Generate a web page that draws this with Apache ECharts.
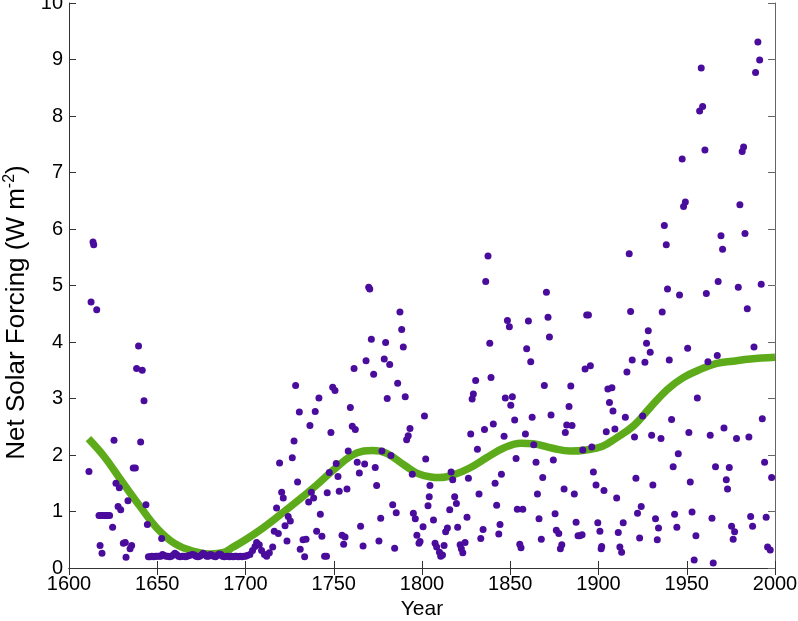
<!DOCTYPE html>
<html>
<head>
<meta charset="utf-8">
<script src="https://cdn.jsdelivr.net/npm/echarts@6/dist/echarts.min.js"></script>
<style>
html,body{margin:0;padding:0;background:#fff;}
#chart{width:798px;height:621px;}
</style>
</head>
<body>
<div id="chart"></div>
<script>
// Axis ticks
var xTicks = [1600, 1650, 1700, 1750, 1800, 1850, 1900, 1950, 2000];
var yTicks = [0, 1, 2, 3, 4, 5, 6, 7, 8, 9, 10];

// Scatter points [year, net solar forcing]
var points1600s = [
  [1611.3,1.71],[1612.5,4.71],[1613.6,5.77],[1614.0,5.72],[1615.7,4.57],
  [1617.0,0.93],[1618.0,0.93],[1619.0,0.93],[1620.0,0.93],[1621.0,0.93],[1622.0,0.93],[1623.0,0.93],
  [1617.6,0.40],[1618.7,0.26],[1624.7,0.72],[1625.5,2.26],[1626.6,1.50],[1627.8,1.09],[1628.5,1.42],
  [1629.3,1.03],[1630.8,0.44],[1631.9,0.45],[1632.3,0.19],[1633.4,1.19],[1634.6,0.34],[1635.5,0.40],
  [1636.4,1.77],[1637.6,1.77],[1638.3,3.53],[1639.4,3.93],[1640.6,2.23],[1641.5,3.50],[1642.5,2.96],
  [1643.6,1.12],[1644.4,0.77],
  [1645,0.20],[1646,0.20],[1647,0.21],[1648,0.20],[1649,0.21],[1650,0.21],[1651,0.21],[1652,0.21],
  [1652.5,0.52],[1653,0.24],[1654,0.22],[1655,0.21],[1656,0.21],[1657,0.20],[1658,0.21],[1659,0.23],
  [1660,0.26],[1661,0.24],[1662,0.21],[1663,0.20],[1664,0.21],[1665,0.21],[1666,0.20],[1667,0.21],
  [1668,0.22],[1669,0.23],[1670,0.24],[1671,0.23],[1672,0.21],[1673,0.20],[1674,0.21],[1675,0.23],
  [1676,0.26],[1677,0.24],[1678,0.21],[1679,0.21],[1680,0.24],[1681,0.23],[1682,0.21],[1683,0.20],
  [1684,0.22],[1685,0.25],[1686,0.24],[1687,0.21],[1688,0.20],[1689,0.21],[1690,0.21],[1691,0.20],
  [1692,0.21],[1693,0.20],[1694,0.21],[1695,0.21],[1696,0.20],[1697,0.21],[1698,0.20],[1699,0.21]
];
var points1700s = [
  [1700,0.21],[1701,0.22],[1702.5,0.24],[1704.0,0.31],[1705.4,0.38],[1706.3,0.45],[1707.8,0.41],
  [1709.1,0.31],[1710.7,0.24],[1712.0,0.21],[1713.5,0.27],[1715.4,0.37],[1716.3,0.65],[1717.6,1.06],
  [1718.6,0.61],[1719.3,1.86],[1720.5,1.34],[1721.4,1.24],[1722.4,0.75],[1723.5,0.48],[1724.2,0.91],
  [1725.4,0.83],[1726.5,1.95],[1727.5,2.25],[1728.4,3.23],[1729.5,1.52],[1730.5,2.76],[1731.0,0.33],
  [1732.6,0.50],[1733.5,0.20],[1734.3,0.51],[1735.8,1.17],[1736.5,2.52],[1737.3,1.34],[1738.6,1.24],
  [1739.5,2.77],[1740.3,0.65],[1741.6,3.01],[1742.4,0.95],[1743.3,0.56],[1744.8,0.21],[1745.9,0.21],
  [1746.3,1.33],[1747.5,1.69],[1748.4,2.40],[1749.4,3.20],[1750.7,3.14],[1751.4,1.85],[1752.4,1.62],
  [1753.1,1.36],[1754.7,0.58],[1755.6,0.42],[1756.4,0.55],[1757.5,1.40],[1758.2,2.07],[1759.4,2.84],
  [1760.5,2.51],[1761.5,3.53],[1762.2,2.45],[1763.3,1.87],[1764.5,1.68],[1765.2,0.74],[1766.6,0.39],
  [1767.5,1.84],[1768.3,3.67],[1769.8,4.97],[1770.4,4.94],[1771.3,4.05],[1772.6,3.43],[1773.5,1.78],
  [1774.3,1.46],[1775.6,0.48],[1776.6,0.88],[1777.3,2.07],[1778.6,3.70],[1779.4,3.99],[1780.3,3.00],
  [1781.7,3.60],[1782.4,1.99],[1783.4,1.12],[1784.5,0.35],[1785.4,0.98],[1786.2,3.27],[1787.5,4.53],
  [1788.5,4.22],[1789.4,3.91],[1790.5,3.03],[1791.3,2.27],[1792.2,2.34],[1793.2,2.47],[1794.5,1.66],
  [1795.1,0.97],[1796.2,0.87],[1797.1,0.58],[1798.3,0.44],[1798.9,0.47]
];
var points1800s = [
  [1800.6,0.73],[1801.4,2.69],[1802.1,1.93],[1803.4,1.10],[1804.1,1.26],[1804.5,1.46],[1806.5,0.85],
  [1807.4,0.44],[1808.3,0.37],[1809.9,0.28],[1810.6,0.21],[1811.6,0.23],[1812.5,0.40],[1813.4,0.64],
  [1814.4,0.71],[1815.7,1.03],[1816.5,1.70],[1817.4,1.56],[1818.5,1.26],[1819.5,1.14],[1820.2,0.72],
  [1821.6,0.41],[1822.3,0.34],[1823.1,0.27],[1824.4,0.45],[1825.5,0.90],[1826.3,1.59],[1827.6,2.37],
  [1828.4,2.99],[1829.1,3.08],[1830.4,3.32],[1831.4,2.10],[1832.3,1.31],[1833.3,0.52],[1834.6,0.68],
  [1835.4,2.45],[1836.1,5.07],[1837.4,5.52],[1838.4,3.98],[1839.1,3.37],[1840.4,2.55],[1841.4,1.50],
  [1842.3,1.11],[1843.5,0.60],[1844.2,0.77],[1845.0,1.66],[1846.5,2.33],[1847.2,3.01],[1848.4,4.38],
  [1849.5,4.27],[1850.3,2.88],[1851.2,3.03],[1852.5,2.62],[1853.3,1.94],[1854.0,1.04],[1855.4,0.42],
  [1856.1,0.36],[1857.1,1.04],[1858.6,2.37],[1859.3,3.88],[1860.3,4.37],[1861.6,3.65],[1862.4,2.67],
  [1863.3,2.18],[1864.6,1.87],[1865.4,1.31],[1866.3,0.87],[1867.6,0.51],[1868.4,1.60],[1869.3,3.23],
  [1870.5,4.88],[1871.4,4.44],[1872.2,4.09],[1873.1,2.71],[1874.4,1.91],[1875.4,0.96],[1876.1,0.67],
  [1877.5,0.61],[1878.4,0.34],[1879.2,0.41],[1880.5,1.40],[1881.2,2.40],[1882.0,2.53],[1883.3,2.86],
  [1884.3,3.22],[1885.0,2.52],[1886.3,1.31],[1887.3,0.81],[1888.4,0.57],[1889.4,0.57],[1890.7,0.59],
  [1891.1,2.09],[1892.4,3.52],[1893.3,4.48],[1894.3,4.48],[1895.4,3.58],[1896.2,2.14],[1897.1,1.70],
  [1898.6,1.47],[1899.6,0.80]
];
var points1900s = [
  [1900.8,0.65],[1901.5,0.34],[1901.8,0.38],[1903.1,1.37],[1904.4,2.41],[1905.3,3.17],[1906.2,2.93],
  [1907.6,3.19],[1908.2,2.78],[1909.3,2.46],[1910.3,1.24],[1911.2,0.63],[1912.1,0.37],[1913.1,0.28],
  [1914.0,0.80],[1915.2,2.67],[1916.1,3.47],[1917.4,5.56],[1918.2,4.54],[1919.1,3.68],[1920.4,2.32],
  [1921.2,1.59],[1922.1,0.97],[1923.3,0.53],[1924.2,1.09],[1925.0,2.69],[1926.3,3.64],[1927.2,3.98],
  [1928.2,4.20],[1929.3,3.82],[1930.1,2.35],[1930.8,1.47],[1932.3,0.87],[1933.3,0.50],[1934.0,0.71],
  [1935.4,2.29],[1936.1,4.53],[1937.3,6.06],[1938.4,5.72],[1939.1,4.94],[1940.1,3.68],[1941.4,2.63],
  [1942.3,1.79],[1943.1,0.95],[1944.4,0.72],[1945.2,2.02],[1945.9,4.83],[1947.4,7.24],[1948.2,6.40],
  [1949.2,6.48],[1950.5,3.89],[1951.2,2.40],[1952.0,1.52],[1953.0,0.99],[1954.2,0.14],[1955.2,0.57],
  [1956.0,3.01],[1957.3,8.09],[1958.2,8.85],[1959.0,8.17],[1960.3,7.40],[1961.1,4.86],[1962.0,3.65],
  [1963.3,2.35],[1964.3,0.88],[1965.0,0.09],[1966.3,1.79],[1967.3,3.76],[1967.8,5.07],[1969.4,5.88],
  [1970.3,5.64],[1971.1,2.48],[1972.4,1.56],[1973.1,1.40],[1974.1,1.78],[1975.4,0.74],[1976.3,0.51],
  [1977.1,0.64],[1978.2,2.29],[1979.2,4.97],[1980.1,6.43],[1981.4,7.37],[1982.2,7.45],[1983.0,5.92],
  [1984.3,4.59],[1985.2,2.32],[1986.2,0.91],[1987.3,0.74],[1988.1,3.91],[1989.0,8.77],[1990.3,9.31],
  [1991.3,8.99],[1992.2,5.02],[1992.8,2.64],[1994.1,1.87],[1995.0,0.90],[1995.8,0.37],[1997.3,0.32],
  [1998.1,1.60]
];

// Smoothed curve [year, value]
var smoothYears  = [1611,1620,1630,1640,1650,1660,1670,1680,1687,1693,1700,1710,1720,1730,1740,1750,1760,1767,1772,1780,1790,1797,1805,1810,1818,1827,1837,1846,1856,1863,1874,1884,1893,1902,1910,1920,1929,1939,1948,1958,1967,1976,1986,2000];
var smoothValues = [2.29,1.97,1.53,1.10,0.70,0.43,0.30,0.25,0.27,0.37,0.50,0.71,0.95,1.20,1.46,1.74,1.99,2.07,2.08,2.03,1.82,1.68,1.61,1.60,1.65,1.77,1.96,2.12,2.21,2.20,2.12,2.07,2.09,2.15,2.30,2.52,2.83,3.16,3.37,3.52,3.62,3.66,3.70,3.73];

var xLabel = 'Year';
var yLabel = 'Net Solar Forcing (W m{sup|-2})';

var scatterData = points1600s.concat(points1700s, points1800s, points1900s);
var smoothData = smoothYears.map(function (y, i) { return [y, smoothValues[i]]; });

var FONT = 'Liberation Sans, Arial, sans-serif';
var axisCol = '#333333';
function plain(v) { return String(v); }

var chart = echarts.init(document.getElementById('chart'), null, {renderer: 'canvas'});
chart.setOption({
  animation: false,
  backgroundColor: '#ffffff',
  grid: {left: 69, right: 23, top: 3, bottom: 53, containLabel: false, outerBoundsMode: 'none'},
  xAxis: [{
    type: 'value', min: xTicks[0], max: xTicks[xTicks.length - 1], interval: 50,
    position: 'bottom',
    name: xLabel, nameLocation: 'middle', nameGap: 30,
    nameTextStyle: {fontFamily: FONT, fontSize: 21, color: '#000'},
    axisLine: {show: true, lineStyle: {color: axisCol, width: 1}},
    axisTick: {show: true, inside: true, length: 7, lineStyle: {color: axisCol}},
    axisLabel: {fontFamily: FONT, fontSize: 20, color: '#000', margin: 6, formatter: plain},
    splitLine: {show: false}
  }, {
    type: 'value', min: xTicks[0], max: xTicks[xTicks.length - 1], interval: 50,
    position: 'top',
    axisLine: {show: true, lineStyle: {color: axisCol, width: 1}},
    axisTick: {show: true, inside: true, length: 7, lineStyle: {color: axisCol}},
    axisLabel: {show: false},
    splitLine: {show: false}
  }],
  yAxis: [{
    type: 'value', min: yTicks[0], max: yTicks[yTicks.length - 1], interval: 1,
    position: 'left',
    name: yLabel, nameLocation: 'middle', nameGap: 34, nameRotate: 90,
    nameTextStyle: {
      fontFamily: FONT, fontSize: 26, color: '#000', padding: [0, 54, 0, 0],
      rich: {sup: {fontFamily: FONT, fontSize: 16, color: '#000', verticalAlign: 'top', padding: [0, 0, 14, 0]}}
    },
    axisLine: {show: true, lineStyle: {color: axisCol, width: 1}},
    axisTick: {show: true, inside: true, length: 7, lineStyle: {color: axisCol}},
    axisLabel: {fontFamily: FONT, fontSize: 20, color: '#000', margin: 6, formatter: plain},
    splitLine: {show: false}
  }, {
    type: 'value', min: yTicks[0], max: yTicks[yTicks.length - 1], interval: 1,
    position: 'right',
    axisLine: {show: true, lineStyle: {color: '#666', width: 1}},
    axisTick: {show: true, inside: true, length: 7, lineStyle: {color: '#666'}},
    axisLabel: {show: false},
    splitLine: {show: false}
  }],
  series: [{
    type: 'line', xAxisIndex: 0, yAxisIndex: 0,
    data: smoothData, smooth: 0.4, showSymbol: false, symbol: 'none',
    lineStyle: {color: '#5dab1a', width: 7.5},
    z: 2
  }, {
    type: 'scatter', xAxisIndex: 0, yAxisIndex: 0,
    data: scatterData, symbol: 'circle', symbolSize: 7,
    itemStyle: {color: '#4a0c9c', opacity: 1},
    z: 3
  }]
});
</script>
</body>
</html>
